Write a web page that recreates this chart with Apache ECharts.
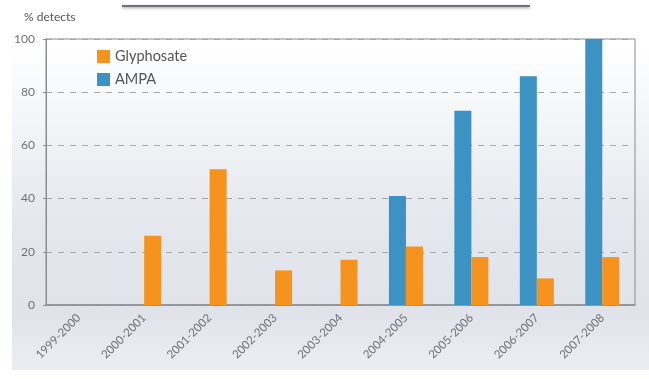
<!DOCTYPE html>
<html>
<head>
<meta charset="utf-8">
<script src="https://cdn.jsdelivr.net/npm/echarts@6/dist/echarts.min.js"></script>
<style>html,body{margin:0;padding:0;background:#fff}#c{width:649px;height:379px}</style>
</head>
<body>
<div id="c"></div>
<script>
const categories = ['1999-2000','2000-2001','2001-2002','2002-2003','2003-2004','2004-2005','2005-2006','2006-2007','2007-2008'];
const glyphosate = [0, 26, 51, 13, 17, 22, 18, 10, 18];
const ampa = [0, 0, 0, 0, 0, 41, 73, 86, 100];
const yTicks = [0, 20, 40, 60, 80, 100];

const chart = echarts.init(document.getElementById('c'));
const font = 'Lato, "Open Sans", sans-serif';
chart.setOption({
  animation: false,
  textStyle: {fontFamily: font},
  graphic: [
    {type: 'rect', z: -10, shape: {x: 12, y: 0, width: 637, height: 370},
     style: {fill: new echarts.graphic.LinearGradient(0, 0, 0, 1, [
       {offset: 0, color: '#ffffff'}, {offset: 0.12, color: '#ffffff'},
       {offset: 0.35, color: '#f2f4f7'}, {offset: 0.6, color: '#e4e7ed'},
       {offset: 0.85, color: '#e0e4ea'}, {offset: 1, color: '#eceef2'}])}},
    {type: 'line', z: -5, shape: {x1: 122, y1: 6, x2: 530, y2: 6},
     style: {stroke: '#6f7378', lineWidth: 2, shadowBlur: 3, shadowColor: 'rgba(0,0,0,0.4)', shadowOffsetY: 1}}
  ],
  title: {text: '% detects', left: 19, top: 6,
    textStyle: {fontSize: 12, fontWeight: 'normal', color: '#555', fontFamily: font}},
  legend: {
    data: ['Glyphosate', 'AMPA'], orient: 'vertical', left: 92, top: 44,
    icon: 'rect', itemWidth: 13, itemHeight: 13, itemGap: 8,
    textStyle: {fontSize: 14.5, color: '#555', fontFamily: font}
  },
  grid: {left: 46, right: 14, top: 39, bottom: 74, show: true, borderColor: '#8a8d92', borderWidth: 1},
  xAxis: {
    type: 'category', data: categories,
    axisLine: {lineStyle: {color: '#8a8d92', width: 1.5}},
    axisTick: {inside: true, length: 5, lineStyle: {color: '#8a8d92'}},
    axisLabel: {rotate: 45, fontSize: 11.5, color: '#6e7176', margin: 11, interval: 0}
  },
  yAxis: {
    type: 'value', min: 0, max: 100, interval: 20,
    axisLine: {show: true, lineStyle: {color: '#8a8d92'}},
    axisTick: {show: true, length: 3, lineStyle: {color: '#8a8d92'}},
    axisLabel: {fontSize: 12, color: '#6e7176', margin: 11,
      formatter: v => yTicks.includes(v) ? String(v) : ''},
    splitLine: {lineStyle: {type: [6, 6], color: '#a3a6ab'}}
  },
  series: [
    {name: 'AMPA', type: 'bar', data: ampa, barGap: '0%', barCategoryGap: '48%',
     itemStyle: {color: '#3c93c3'}},
    {name: 'Glyphosate', type: 'bar', data: glyphosate, barGap: '0%', barCategoryGap: '48%',
     itemStyle: {color: '#f5931e'}}
  ]
});
</script>
</body>
</html>
